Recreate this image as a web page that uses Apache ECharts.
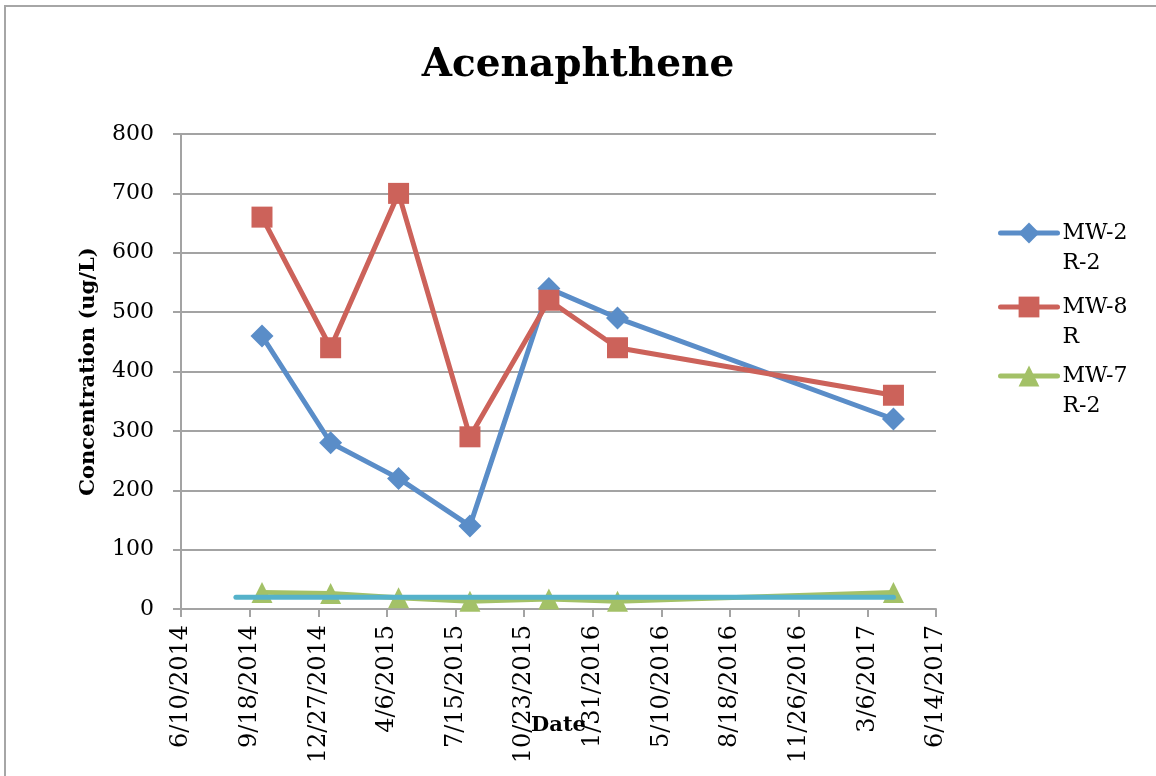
<!DOCTYPE html>
<html>
<head>
<meta charset="utf-8">
<title>Acenaphthene</title>
<script src="https://cdn.jsdelivr.net/npm/echarts@6/dist/echarts.min.js"></script>
<style>
  html, body { margin: 0; padding: 0; background: #ffffff; }
  #chart { width: 1156px; height: 776px; }
</style>
</head>
<body>
<div id="chart"></div>
<script>
// Sampling dates and concentrations (ug/L)
const sampleDates = ['2014-10-06', '2015-01-14', '2015-04-23', '2015-08-05', '2015-11-28', '2016-03-07', '2017-04-13'];
const mw2 = [460, 280, 220, 140, 540, 490, 320];
const mw8 = [660, 440, 700, 290, 520, 440, 360];
const mw7 = [28, 26, 19, 13, 17, 13, 28];

// Reference level drawn across the sampling period
const refDates = ['2014-08-29', '2017-04-13'];
const refLevel = [20, 20];

const seriesNames = ['MW-2 R-2', 'MW-8 R', 'MW-7 R-2', 'Reference level'];
const colors = ['#5A8DC8', '#CC625A', '#A3C167', '#55B2CA'];

// Date axis runs on spreadsheet day serials: 6/10/2014 .. 6/14/2017, every 100 days
const axisMinSerial = 41800;
const axisMaxSerial = 42900;
const axisStepDays = 100;

const EPOCH = Date.UTC(1899, 11, 30);
const DAY = 86400000;
function toSerial(s) {
  const p = s.split('-').map(Number);
  return Math.round((Date.UTC(p[0], p[1] - 1, p[2]) - EPOCH) / DAY);
}
function serialLabel(v) {
  const d = new Date(EPOCH + v * DAY);
  return (d.getUTCMonth() + 1) + '/' + d.getUTCDate() + '/' + d.getUTCFullYear();
}
function pairs(dates, vals) {
  return dates.map((d, i) => [toSerial(d), vals[i]]);
}

const FONT = 'DejaVu Serif';
const GRID_GRAY = '#A3A3A3';
const LINE_W = 5;

const chart = echarts.init(document.getElementById('chart'), null, { renderer: 'canvas' });

// One legend block per well; the blank first line keeps the marker beside the first text line
function legendFor(idx, top) {
  return {
    data: [{
      name: seriesNames[idx],
      lineStyle: { width: LINE_W, color: colors[idx], cap: 'round' },
      itemStyle: { color: colors[idx] }
    }],
    left: 998,
    top: top,
    padding: 0,
    orient: 'vertical',
    itemWidth: 57,
    itemHeight: 26,
    selectedMode: false,
    formatter: n => ' \n' + n.replace(' ', '\n'),
    textStyle: {
      fontFamily: FONT,
      fontSize: 22,
      lineHeight: 30,
      color: '#000'
    }
  };
}

const option = {
  animation: false,
  backgroundColor: '#ffffff',
  color: colors,
  title: {
    text: 'Acenaphthene',
    left: 'center',
    top: 41,
    textStyle: { fontFamily: FONT, fontSize: 39, fontWeight: 'bold', color: '#000' }
  },
  graphic: [{
    type: 'rect',
    shape: { x: 5, y: 6, width: 1200, height: 900 },
    style: { fill: 'none', stroke: '#A6A6A6', lineWidth: 2 },
    silent: true
  }],
  legend: [
    legendFor(0, 233 - 45),
    legendFor(1, 307 - 45),
    legendFor(2, 376 - 45)
  ],
  grid: { left: 181, right: 220, top: 134, bottom: 167, containLabel: false, outerBoundsMode: 'none' },
  xAxis: {
    type: 'value',
    min: axisMinSerial,
    max: axisMaxSerial,
    interval: axisStepDays,
    name: 'Date',
    nameLocation: 'middle',
    nameGap: 106,
    nameMoveOverlap: false,
    nameTextStyle: { fontFamily: FONT, fontSize: 21, fontWeight: 'bold', color: '#000' },
    axisLine: { show: true, lineStyle: { color: GRID_GRAY, width: 2 } },
    axisTick: { show: true, inside: false, length: 8, lineStyle: { color: GRID_GRAY, width: 2 } },
    axisLabel: {
      rotate: 90,
      margin: 16,
      fontFamily: FONT,
      fontSize: 24,
      color: '#000',
      hideOverlap: false,
      formatter: v => serialLabel(v)
    },
    splitLine: { show: false }
  },
  yAxis: {
    type: 'value',
    min: 0,
    max: 800,
    interval: 100,
    name: 'Concentration (ug/L)',
    nameLocation: 'middle',
    nameGap: 82,
    nameMoveOverlap: false,
    nameTextStyle: { fontFamily: FONT, fontSize: 21, fontWeight: 'bold', color: '#000' },
    axisLine: { show: true, lineStyle: { color: GRID_GRAY, width: 2 } },
    axisTick: { show: true, inside: false, length: 8, lineStyle: { color: GRID_GRAY, width: 2 } },
    axisLabel: { margin: 27, fontFamily: FONT, fontSize: 22, color: '#000' },
    splitLine: { show: true, lineStyle: { color: GRID_GRAY, width: 2 } }
  },
  series: [
    {
      name: seriesNames[0],
      type: 'line',
      data: pairs(sampleDates, mw2),
      symbol: 'diamond',
      symbolSize: [23, 23],
      lineStyle: { width: LINE_W, color: colors[0] },
      itemStyle: { color: colors[0] },
      z: 2
    },
    {
      name: seriesNames[1],
      type: 'line',
      data: pairs(sampleDates, mw8),
      symbol: 'rect',
      symbolSize: 21,
      lineStyle: { width: LINE_W, color: colors[1] },
      itemStyle: { color: colors[1] },
      z: 3
    },
    {
      name: seriesNames[2],
      type: 'line',
      data: pairs(sampleDates, mw7),
      symbol: 'triangle',
      symbolSize: [21, 21],
      lineStyle: { width: LINE_W, color: colors[2] },
      itemStyle: { color: colors[2] },
      z: 4
    },
    {
      name: seriesNames[3],
      type: 'line',
      data: pairs(refDates, refLevel),
      symbol: 'none',
      lineStyle: { width: 5, color: colors[3], cap: 'round' },
      z: 5
    }
  ]
};

chart.setOption(option);
</script>
</body>
</html>
